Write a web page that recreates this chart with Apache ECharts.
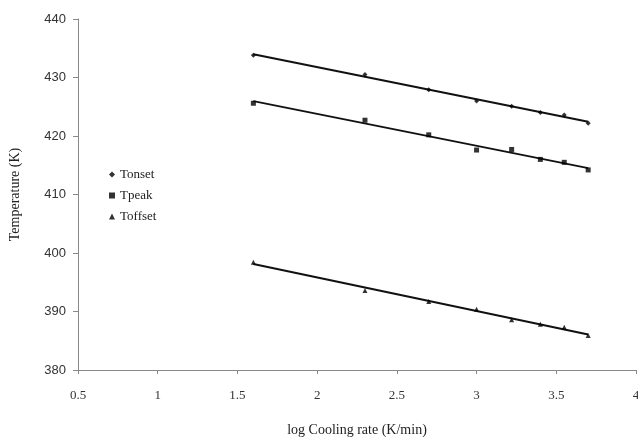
<!DOCTYPE html>
<html><head><meta charset="utf-8">
<script src="https://cdn.jsdelivr.net/npm/echarts@6/dist/echarts.min.js"></script>
<style>html,body{margin:0;padding:0;background:#fff}#c{width:638px;height:437px}</style>
</head><body><div id="c"></div>
<script>
const logRate = [1.6, 2.3, 2.7, 3.0, 3.22, 3.4, 3.55, 3.7];
const tOnset = [433.8, 430.5, 427.9, 426.0, 425.1, 424.0, 423.6, 422.2];
const tPeak = [425.6, 422.7, 420.2, 417.6, 417.7, 416.0, 415.5, 414.2];
const tOffset = [398.4, 393.6, 391.7, 390.4, 388.6, 387.8, 387.3, 385.9];
const seriesNames = ['Tonset', 'Tpeak', 'Toffset'];
const symbols = ['diamond', 'rect', 'triangle'];
const symbolSizes = [5, 5, 5];

function fitLine(xs, ys) {
  const n = xs.length;
  const mx = xs.reduce((a, b) => a + b, 0) / n;
  const my = ys.reduce((a, b) => a + b, 0) / n;
  let sxy = 0, sxx = 0;
  for (let i = 0; i < n; i++) { sxy += (xs[i] - mx) * (ys[i] - my); sxx += (xs[i] - mx) ** 2; }
  const b = sxy / sxx, a = my - b * mx;
  const x0 = xs[0], x1 = xs[n - 1];
  return [[x0, a + b * x0], [x1, a + b * x1]];
}

const all = [tOnset, tPeak, tOffset];
const series = [];
all.forEach((ys, i) => {
  series.push({
    name: seriesNames[i], type: 'scatter', symbol: symbols[i], symbolSize: symbolSizes[i],
    itemStyle: { color: '#000' }, z: 3,
    data: logRate.map((x, j) => [x, ys[j]])
  });
  series.push({
    type: 'line', data: fitLine(logRate, ys), symbol: 'none', silent: true,
    lineStyle: { color: '#111', width: 2 }, z: 2
  });
});

const serif = 'Liberation Serif';
const sans = 'Liberation Sans';
const chart = echarts.init(document.getElementById('c'), null, { renderer: 'canvas' });
chart.setOption({
  animation: false,
  backgroundColor: '#fff',
  grid: { left: 78, right: 2, top: 19, bottom: 67, outerBoundsMode: 'none', containLabel: false },
  legend: {
    data: seriesNames.map((n, i) => ({ name: n, icon: symbols[i] })),
    orient: 'vertical', left: 104, top: 163, itemWidth: 6, itemHeight: 6, itemGap: 8,
    textStyle: { fontFamily: serif, fontSize: 13, color: '#222' }
  },
  xAxis: {
    type: 'value', min: 0.5, max: 4, interval: 0.5,
    name: 'log Cooling rate (K/min)', nameLocation: 'middle', nameGap: 53,
    nameTextStyle: { fontFamily: serif, fontSize: 14, color: '#222' },
    axisLine: { lineStyle: { color: '#888' } },
    axisTick: { show: true, length: 4, lineStyle: { color: '#888' } },
    axisLabel: { fontFamily: serif, fontSize: 13, color: '#333', margin: 19 },
    splitLine: { show: false }
  },
  yAxis: {
    type: 'value', min: 380, max: 440, interval: 10,
    name: 'Temperature (K)', nameLocation: 'middle', nameGap: 56,
    nameTextStyle: { fontFamily: serif, fontSize: 14, color: '#222' },
    axisLine: { show: true, lineStyle: { color: '#888' } },
    axisTick: { show: true, length: 5, lineStyle: { color: '#888' } },
    axisLabel: { fontFamily: sans, fontSize: 13, color: '#333', margin: 12 },
    splitLine: { show: false }
  },
  series: series
});
</script></body></html>
